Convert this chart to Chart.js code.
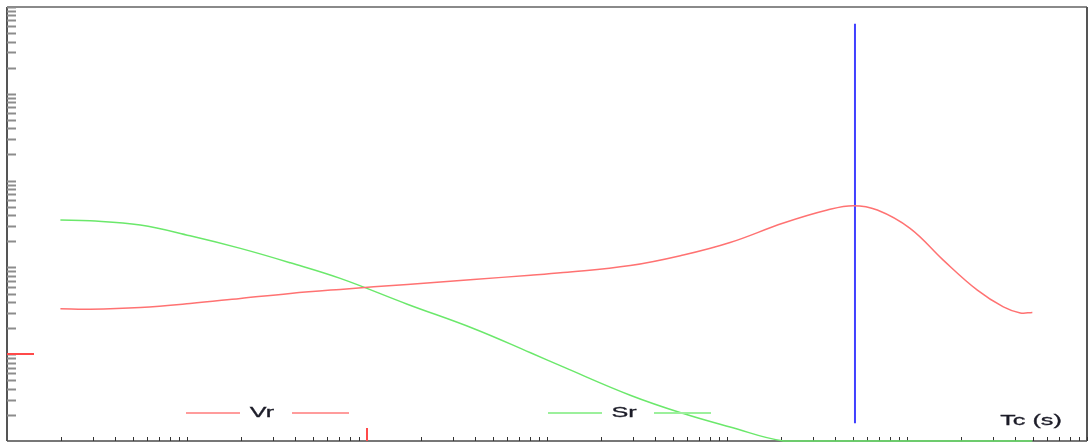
<!DOCTYPE html>
<html>
<head>
<meta charset="utf-8">
<script src="https://cdn.jsdelivr.net/npm/chart.js@4.4.1/dist/chart.umd.min.js"></script>
<style>
  html, body { margin: 0; padding: 0; background: #fff; }
  canvas { display: block; }
</style>
</head>
<body>
<canvas id="chart" width="1091" height="446"></canvas>
<script>
// Tc (s) sur axe log
const tcValues = [0.00198, 0.0029, 0.0055, 0.0104, 0.0198, 0.0375, 0.071, 0.1675, 0.39, 0.81, 1.23, 2.9,
                  5.72, 10.4, 20.6, 36.1, 50.3, 68.4, 104, 159, 246, 343, 426, 497];
const vrValues = [33.3, 33.0, 34.6, 38.4, 43.9, 50.1, 55.8, 63.7, 72.7, 81.1, 87.1, 104.9,
                  138.7, 193.2, 324.3, 458, 513.4, 458, 281.7, 121.4, 54.7, 35.1, 29.9, 30.3];
const srValues = [351.3, 344.8, 307.5, 231.4, 165.6, 113.0, 74.7, 37.7, 19.8, 10.4, 7.14, 3.37,
                  2.07, 1.45, 1, 1, 1, 1, 1, 1, 1, 1, 1, 1];

// curseur vertical + reperes rouges
const cursorTc = 51.4;
const cursorRange = [1.6, 64000];
const markerTc = 0.1;
const markerY = 10;

// axes
const xRange = [0.001, 1000];
const yRange = [1, 100000];
const tickMults = [2, 3, 4, 5, 6, 7, 8, 9, 10];

const legendItems = [
    { label: 'Vr', center: 262, color: '#ff9c9c' },
    { label: 'Sr', center: 624, color: '#9cf09c' }
];
const axisTitle = 'Tc (s)';

function decadeTicks(min, max) {
    const out = [];
    for (let d = min; d < max; d *= 10) {
        tickMults.forEach(m => out.push(m * d));
    }
    return out;
}

function stretchedText(ctx, txt, cx, cy) {
    ctx.save();
    ctx.translate(cx, cy);
    ctx.scale(1.8, 1);
    ctx.font = '14px "Liberation Sans", Arial, sans-serif';
    ctx.fillStyle = '#1c1c28';
    ctx.strokeStyle = '#1c1c28';
    ctx.lineWidth = 0.3;
    ctx.textAlign = 'center';
    ctx.textBaseline = 'middle';
    ctx.fillText(txt, 0, 0);
    ctx.strokeText(txt, 0, 0);
    ctx.restore();
}

const framePlugin = {
    id: 'frame',
    beforeDatasetsDraw(chart) {
        const { ctx, chartArea: a, scales } = chart;
        ctx.save();
        // cadre
        ctx.lineWidth = 2;
        ctx.strokeStyle = '#8a8a8a';
        ctx.beginPath(); ctx.moveTo(a.left, a.top); ctx.lineTo(a.right, a.top); ctx.stroke();
        ctx.strokeStyle = '#777';
        ctx.beginPath(); ctx.moveTo(a.left, a.bottom); ctx.lineTo(a.right, a.bottom); ctx.stroke();
        ctx.strokeStyle = '#555';
        ctx.beginPath(); ctx.moveTo(a.left, a.top); ctx.lineTo(a.left, a.bottom); ctx.stroke();
        ctx.beginPath(); ctx.moveTo(a.right, a.top); ctx.lineTo(a.right, a.bottom); ctx.stroke();

        // graduations Y (vers l'interieur)
        ctx.strokeStyle = '#8c8c8c';
        ctx.lineWidth = 2;
        decadeTicks(yRange[0], yRange[1]).forEach(v => {
            const y = Math.round(scales.y.getPixelForValue(v)) + 0.5;
            ctx.beginPath(); ctx.moveTo(a.left, y); ctx.lineTo(a.left + 9, y); ctx.stroke();
        });

        // graduations X
        ctx.strokeStyle = '#333';
        ctx.lineWidth = 1;
        decadeTicks(xRange[0], xRange[1]).forEach(v => {
            const x = Math.round(scales.x.getPixelForValue(v)) + 0.5;
            ctx.beginPath(); ctx.moveTo(x, a.bottom); ctx.lineTo(x, a.bottom - 4); ctx.stroke();
        });
        ctx.restore();
    },
    afterDatasetsDraw(chart) {
        const { ctx, chartArea: a, scales } = chart;
        ctx.save();
        // reperes rouges
        ctx.strokeStyle = '#ff4a4a';
        ctx.lineWidth = 2;
        const mx = Math.round(scales.x.getPixelForValue(markerTc));
        ctx.beginPath(); ctx.moveTo(mx, a.bottom); ctx.lineTo(mx, a.bottom - 13); ctx.stroke();
        const my = Math.round(scales.y.getPixelForValue(markerY));
        ctx.beginPath(); ctx.moveTo(a.left, my); ctx.lineTo(a.left + 27, my); ctx.stroke();

        // legende
        legendItems.forEach(it => {
            ctx.strokeStyle = it.color;
            ctx.lineWidth = 2;
            ctx.beginPath(); ctx.moveTo(it.center - 76, 413); ctx.lineTo(it.center - 22, 413); ctx.stroke();
            ctx.beginPath(); ctx.moveTo(it.center + 30, 413); ctx.lineTo(it.center + 87, 413); ctx.stroke();
            stretchedText(ctx, it.label, it.center, 413);
        });
        stretchedText(ctx, axisTitle, 1031, 421.5);
        ctx.restore();
    }
};

const toPoints = vals => vals.map((v, i) => ({ x: tcValues[i], y: v }));

new Chart(document.getElementById('chart'), {
    type: 'line',
    data: {
        datasets: [
            {
                label: 'Vr',
                data: toPoints(vrValues),
                borderColor: '#ff7272',
                borderWidth: 1.5,
                pointRadius: 0,
                tension: 0.4,
                clip: false
            },
            {
                label: 'Sr',
                data: toPoints(srValues),
                borderColor: '#6be86b',
                borderWidth: 1.5,
                pointRadius: 0,
                tension: 0.4,
                clip: false
            },
            {
                label: 'curseur',
                data: cursorRange.map(v => ({ x: cursorTc, y: v })),
                borderColor: '#4040ff',
                borderWidth: 2,
                pointRadius: 0,
                clip: false
            }
        ]
    },
    options: {
        responsive: false,
        animation: false,
        layout: { padding: { left: 7, right: 4, top: 7, bottom: 5 } },
        plugins: { legend: { display: false }, tooltip: { enabled: false } },
        scales: {
            x: { type: 'logarithmic', min: xRange[0], max: xRange[1], display: false },
            y: { type: 'logarithmic', min: yRange[0], max: yRange[1], display: false }
        }
    },
    plugins: [framePlugin]
});
</script>
</body>
</html>
